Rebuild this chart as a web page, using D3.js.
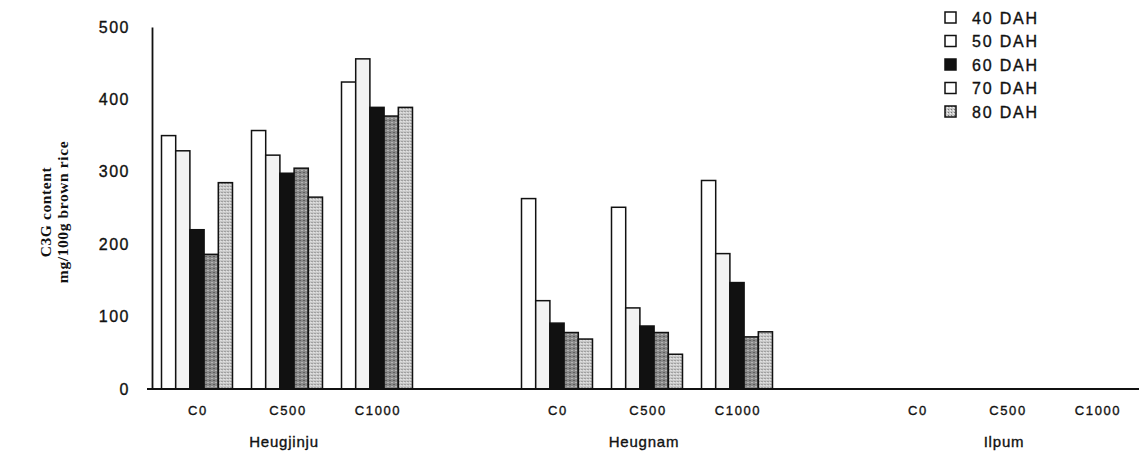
<!DOCTYPE html>
<html>
<head>
<meta charset="utf-8">
<script src="https://cdn.jsdelivr.net/npm/d3@7"></script>
<style>
  body { margin: 0; background: #fff; }
  text { font-family: "Liberation Sans", Arial, sans-serif; fill: #111; }
  .sans { stroke: #111; stroke-width: 0.35; }
</style>
</head>
<body>
<div id="chart"></div>
<script>
// cultivars and treatments
const varieties = ["Heugjinju", "Heugnam", "Ilpum"];
const treatments = ["C0", "C500", "C1000"];
const stages = ["40 DAH", "50 DAH", "60 DAH", "70 DAH", "80 DAH"];
const yTicks = [0, 100, 200, 300, 400, 500];

// C3G content (mg/100g brown rice), one array per stage, order: variety x treatment
const dah40 = [350, 357, 424, 263, 251, 288, 0, 0, 0];
const dah50 = [329, 323, 456, 122, 112, 187, 0, 0, 0];
const dah60 = [220, 298, 389, 91, 87, 147, 0, 0, 0];
const dah70 = [186, 305, 377, 78, 78, 72, 0, 0, 0];
const dah80 = [285, 265, 389, 69, 48, 79, 0, 0, 0];

(function(){
  const W = 1139, H = 460;
  const svg = d3.select("#chart").append("svg").attr("width", W).attr("height", H);

  const fills = ["#ffffff", "#f3f3f3", "#111111", "url(#grainDark)", "url(#grainLight)"];
  const legendFills = ["#ffffff", "#ffffff", "#111111", "#ffffff", "url(#grainLight)"];

  // textures for the scanned gray bars
  const defs = svg.append("defs");
  const pd = defs.append("pattern").attr("id", "grainDark").attr("patternUnits", "userSpaceOnUse")
    .attr("width", 4).attr("height", 4);
  pd.append("rect").attr("width", 4).attr("height", 4).attr("fill", "#8a8a8a");
  pd.append("rect").attr("x", 0).attr("y", 0).attr("width", 1).attr("height", 1).attr("fill", "#333");
  pd.append("rect").attr("x", 2).attr("y", 2).attr("width", 1).attr("height", 1).attr("fill", "#ddd");
  const pl = defs.append("pattern").attr("id", "grainLight").attr("patternUnits", "userSpaceOnUse")
    .attr("width", 3).attr("height", 3);
  pl.append("rect").attr("width", 3).attr("height", 3).attr("fill", "#c8c8c8");
  pl.append("rect").attr("x", 0).attr("y", 0).attr("width", 1).attr("height", 1).attr("fill", "#777");
  pl.append("rect").attr("x", 2).attr("y", 1).attr("width", 1).attr("height", 1).attr("fill", "#f5f5f5");

  const series = [dah40, dah50, dah60, dah70, dah80];

  // 11 slots: 3 treatments per variety, empty slot between varieties
  const slots = [];
  varieties.forEach((v, vi) => {
    treatments.forEach(t => slots.push(v + "|" + t));
    if (vi < varieties.length - 1) slots.push("gap" + vi);
  });
  const keys = [];
  varieties.forEach(v => treatments.forEach(t => keys.push(v + "|" + t)));

  const x = d3.scaleBand().domain(slots).range([152, 1142]).paddingInner(0).paddingOuter(0);
  const xInner = d3.scaleBand().domain(stages).range([0, 71]);
  const y = d3.scaleLinear().domain([0, 500]).range([389, 27]);

  // bars
  keys.forEach((k, i) => {
    const g = svg.append("g").attr("transform", `translate(${x(k) + (x.bandwidth() - 71) / 2},0)`);
    stages.forEach((s, si) => {
      const v = series[si][i];
      if (v <= 0) return;
      g.append("rect")
        .attr("x", xInner(s)).attr("y", y(v))
        .attr("width", xInner.bandwidth()).attr("height", y(0) - y(v))
        .attr("fill", fills[si]).attr("stroke", "#111").attr("stroke-width", 1.5);
    });
  });

  // axes
  const yAxis = svg.append("g").attr("transform", "translate(152,0)")
    .call(d3.axisLeft(y).tickValues(yTicks).tickSize(0).tickPadding(22));
  yAxis.select(".domain").attr("stroke", "#111").attr("stroke-width", 1.8);
  yAxis.selectAll("text").attr("class", "sans").attr("font-size", 16).attr("letter-spacing", 1.5)
    .attr("font-family", "Liberation Sans, Arial, sans-serif");
  svg.append("line").attr("x1", 147).attr("x2", 1139).attr("y1", y(0)).attr("y2", y(0))
    .attr("stroke", "#111").attr("stroke-width", 1.8);

  // treatment labels
  keys.forEach(k => {
    svg.append("text").attr("class", "sans").attr("x", x(k) + x.bandwidth() / 2 + 1).attr("y", 415)
      .attr("text-anchor", "middle").attr("font-size", 13).attr("letter-spacing", 1.6)
      .text(k.split("|")[1]);
  });
  // variety labels
  varieties.forEach(v => {
    const mid = x(v + "|C500") + x.bandwidth() / 2;
    svg.append("text").attr("class", "sans").attr("x", mid - 3).attr("y", 447)
      .attr("text-anchor", "middle").attr("font-size", 15).attr("letter-spacing", 0.8).text(v);
  });

  // y title
  const yt = svg.append("g").attr("transform", "translate(51,212) rotate(-90)");
  yt.append("text").attr("text-anchor", "middle").attr("y", 0)
    .style("font-family", "Liberation Serif, 'Times New Roman', serif").attr("font-weight", "bold")
    .attr("font-size", 15.5).attr("letter-spacing", 0.6).text("C3G content");
  yt.append("text").attr("text-anchor", "middle").attr("y", 17)
    .style("font-family", "Liberation Serif, 'Times New Roman', serif").attr("font-weight", "bold")
    .attr("font-size", 15.5).attr("letter-spacing", 0.6).text("mg/100g brown rice");

  // legend
  const lg = svg.append("g").attr("transform", "translate(945,9)");
  stages.forEach((s, si) => {
    const row = lg.append("g").attr("transform", `translate(0,${si * 23.5})`);
    row.append("rect").attr("x", 0).attr("y", 3).attr("width", 11).attr("height", 11)
      .attr("fill", legendFills[si]).attr("stroke", "#111").attr("stroke-width", 1.5);
    row.append("text").attr("class", "sans").attr("x", 27).attr("y", 14.5)
      .attr("font-size", 16).attr("letter-spacing", 1.8).text(s);
  });
})();
</script>
</body>
</html>
